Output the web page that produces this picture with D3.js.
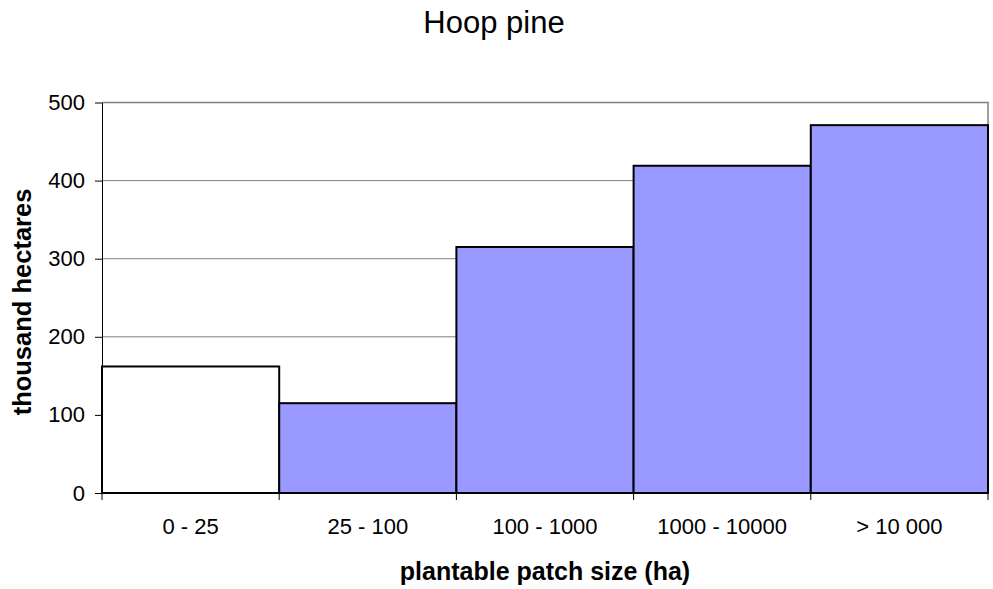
<!DOCTYPE html>
<html lang="en">
<head>
<meta charset="utf-8">
<title>Hoop pine</title>
<style>
   html,body { margin:0; padding:0; background:white; }
   svg { display:block; font-family:"Liberation Sans", Arial, sans-serif; }
</style>
<script src="https://d3js.org/d3.v7.min.js"></script>
</head>
<body>
<script>
// data
const categories = ['0 - 25','25 - 100','100 - 1000','1000 - 10000','> 10 000'];
const values = [162, 115, 315, 419, 471];
const fills = ['#ffffff','#9999ff','#9999ff','#9999ff','#9999ff'];
const yTicks = [0, 100, 200, 300, 400, 500];

const width = 993, height = 589;
const margin = {top:102.5, right:5, bottom:96, left:102};

const data = categories.map((c,i) => ({cat:c, val:values[i], fill:fills[i]}));

const x = d3.scaleBand()
   .domain(categories)
   .range([margin.left, width - margin.right])
   .padding(0);
const y = d3.scaleLinear()
   .domain([0, 500])
   .range([height - margin.bottom, margin.top]);

const svg = d3.select('body').append('svg')
   .attr('width', width)
   .attr('height', height)
   .attr('viewBox', [0, 0, width, height]);

// gridlines
svg.append('g')
   .attr('class','grid')
   .selectAll('line')
   .data(yTicks.filter(d => d > 0))
   .join('line')
   .attr('x1', margin.left)
   .attr('x2', width - margin.right)
   .attr('y1', d => y(d))
   .attr('y2', d => y(d))
   .attr('stroke', '#808080')
   .attr('stroke-width', 1);

// plot frame (top + right)
svg.append('path')
   .attr('d', `M${margin.left},${y(500)}H${width - margin.right}V${y(0)}`)
   .attr('fill','none')
   .attr('stroke','#808080')
   .attr('stroke-width', 1.5);

// bars
svg.append('g')
   .attr('class','bars')
   .selectAll('rect')
   .data(data)
   .join('rect')
   .attr('x', d => x(d.cat))
   .attr('y', d => y(d.val))
   .attr('width', x.bandwidth())
   .attr('height', d => y(0) - y(d.val))
   .attr('fill', d => d.fill)
   .attr('stroke', '#000')
   .attr('stroke-width', 2);

// y axis
const yAxis = svg.append('g')
   .attr('transform', `translate(${margin.left},0)`)
   .call(d3.axisLeft(y).tickValues(yTicks).tickSize(7).tickPadding(10).tickSizeOuter(0));
yAxis.select('.domain').attr('stroke','#000');
yAxis.selectAll('.tick line').attr('stroke','#000');
yAxis.selectAll('text')
   .attr('fill','#000')
   .style('font-size','22px')
   .style('font-family','"Liberation Sans", Arial, sans-serif');

// x axis: ticks on the band edges, labels in the band centres
const xAxis = svg.append('g')
   .attr('transform', `translate(0,${y(0)})`);
xAxis.append('line')
   .attr('x1', margin.left).attr('x2', width - margin.right)
   .attr('stroke','#000').attr('stroke-width',1);
xAxis.selectAll('line.edge')
   .data(categories.map(c => x(c)).concat([x(categories[categories.length-1]) + x.bandwidth()]))
   .join('line')
   .attr('class','edge')
   .attr('x1', d => d).attr('x2', d => d)
   .attr('y1', 0).attr('y2', 7)
   .attr('stroke','#000');
xAxis.selectAll('text')
   .data(categories)
   .join('text')
   .attr('x', d => x(d) + x.bandwidth()/2)
   .attr('y', 41)
   .attr('text-anchor','middle')
   .style('font-size','22px')
   .text(d => d);

// titles
svg.append('text')
   .attr('x', 494).attr('y', 33)
   .attr('text-anchor','middle')
   .style('font-size','31px')
   .text('Hoop pine');

svg.append('text')
   .attr('x', (margin.left + width - margin.right)/2).attr('y', 580)
   .attr('text-anchor','middle')
   .style('font-size','25px')
   .style('font-weight','bold')
   .text('plantable patch size (ha)');

svg.append('text')
   .attr('transform', `translate(31,302) rotate(-90)`)
   .attr('text-anchor','middle')
   .style('font-size','25.5px')
   .style('font-weight','bold')
   .text('thousand hectares');
</script>
</body>
</html>
